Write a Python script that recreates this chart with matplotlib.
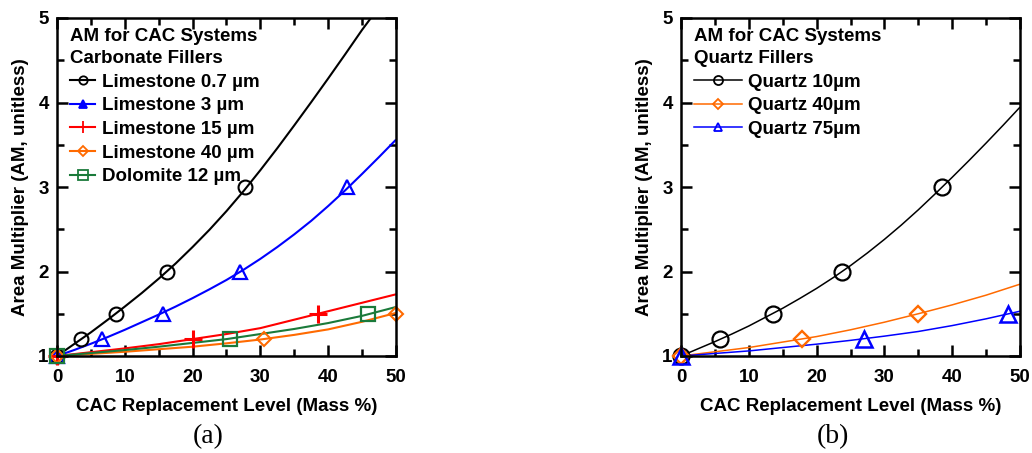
import matplotlib
matplotlib.use("Agg")
import matplotlib.pyplot as plt
from matplotlib.ticker import MultipleLocator
from matplotlib.lines import Line2D

plt.rcParams['font.family'] = ['Liberation Sans', 'DejaVu Sans']
plt.rcParams['font.weight'] = 'bold'

# ---------- data: panel (a) carbonate fillers ----------
step5_x = [0, 5, 10, 15, 20, 25, 30, 35, 40, 45, 50]
step25_x = [0, 2.5, 5, 7.5, 10, 12.5, 15, 17.5, 20, 22.5, 25, 27.5, 30,
            32.5, 35, 37.5, 40, 42.5, 45, 47.5, 50]

ls07_curve_x = [0, 2.5, 5, 7.5, 10, 12.5, 15, 17.5, 20, 22.5, 25, 27.5, 30,
                32.5, 35, 37.5, 40, 42.5, 45, 46.3]
ls07_curve_y = [1.0, 1.14, 1.28, 1.43, 1.585, 1.745, 1.915, 2.095, 2.29, 2.495,
                2.715, 2.95, 3.2, 3.46, 3.73, 4.005, 4.285, 4.57, 4.86, 5.0]
ls07_pts_x = [0, 3.5, 8.7, 16.2, 27.8]
ls07_pts_y = [1.0, 1.2, 1.5, 2.0, 3.0]

ls3_curve_y = [1.0, 1.07, 1.145, 1.225, 1.31, 1.4, 1.49, 1.585, 1.685, 1.79,
               1.9, 2.02, 2.15, 2.29, 2.44, 2.6, 2.775, 2.96, 3.155, 3.355, 3.56]
ls3_pts_x = [0, 6.7, 15.6, 27.0, 42.7]
ls3_pts_y = [1.0, 1.2, 1.5, 2.0, 3.0]

ls15_curve_y = [1.0, 1.045, 1.09, 1.14, 1.2, 1.26, 1.33, 1.43, 1.53, 1.63, 1.73]
ls15_pts_x = [0, 20.0, 38.5]
ls15_pts_y = [1.0, 1.2, 1.5]

ls40_curve_y = [1.0, 1.025, 1.05, 1.08, 1.11, 1.15, 1.195, 1.25, 1.315, 1.405, 1.51]
ls40_pts_x = [0, 30.5, 50.0]
ls40_pts_y = [1.0, 1.2, 1.5]

dol12_curve_y = [1.0, 1.035, 1.07, 1.11, 1.155, 1.2, 1.26, 1.32, 1.39, 1.475, 1.58]
dol12_pts_x = [0, 25.5, 45.8]
dol12_pts_y = [1.0, 1.2, 1.5]

# ---------- data: panel (b) quartz fillers ----------
q10_curve_y = [1.0, 1.085, 1.17, 1.26, 1.355, 1.46, 1.565, 1.68, 1.8, 1.93,
               2.07, 2.22, 2.38, 2.55, 2.73, 2.92, 3.115, 3.315, 3.52, 3.73, 3.945]
q10_pts_x = [0, 5.8, 13.5, 23.8, 38.5]
q10_pts_y = [1.0, 1.2, 1.5, 2.0, 3.0]

q40_curve_y = [1.0, 1.05, 1.1, 1.165, 1.23, 1.31, 1.4, 1.5, 1.605, 1.72, 1.85]
q40_pts_x = [0, 17.8, 35.0]
q40_pts_y = [1.0, 1.2, 1.5]

q75_curve_y = [1.0, 1.03, 1.06, 1.1, 1.14, 1.185, 1.235, 1.29, 1.36, 1.44, 1.53]
q75_pts_x = [0, 27.0, 48.3]
q75_pts_y = [1.0, 1.2, 1.5]

BLACK = '#000000'
BLUE = '#0000ff'
RED = '#ff0000'
ORANGE = '#ff6a00'
GREEN = '#1a7a3a'

FS = 13.5

fig = plt.figure(figsize=(10.32, 4.53), dpi=100)
axA = fig.add_axes([57/1032, 97/453, 339/1032, 338/453])
axB = fig.add_axes([681/1032, 97/453, 339/1032, 338/453])


def series(ax, cx, cy, px, py, color, marker, label, ms, lw, mew, lms, lfill=False):
    ax.plot(cx, cy, color=color, lw=lw, solid_capstyle='butt', zorder=2)
    ax.plot(px, py, ls='none', marker=marker, ms=ms, mfc='none', mec=color,
            mew=mew, clip_on=False, zorder=3)
    return Line2D([], [], color=color, lw=lw, marker=marker, ms=lms,
                  mfc=color if lfill else 'none', mec=color, mew=1.3, label=label)


hA = [
    series(axA, ls07_curve_x, ls07_curve_y, ls07_pts_x, ls07_pts_y, BLACK, 'o', 'Limestone 0.7 µm', 10, 1.5, 1.5, 6),
    series(axA, step25_x, ls3_curve_y, ls3_pts_x, ls3_pts_y, BLUE, '^', 'Limestone 3 µm', 10, 1.5, 1.6, 6, True),
    series(axA, step5_x, ls15_curve_y, ls15_pts_x, ls15_pts_y, RED, '+', 'Limestone 15 µm', 13, 1.5, 2.2, 9),
    series(axA, step5_x, ls40_curve_y, ls40_pts_x, ls40_pts_y, ORANGE, 'D', 'Limestone 40 µm', 7.5, 1.5, 1.5, 5),
    series(axA, step5_x, dol12_curve_y, dol12_pts_x, dol12_pts_y, GREEN, 's', 'Dolomite 12 µm', 9.5, 1.5, 1.6, 6.5),
]

hB = [
    series(axB, step25_x, q10_curve_y, q10_pts_x, q10_pts_y, BLACK, 'o', 'Quartz 10µm', 11.5, 1.1, 1.6, 6.5),
    series(axB, step5_x, q40_curve_y, q40_pts_x, q40_pts_y, ORANGE, 'D', 'Quartz 40µm', 8.5, 1.1, 1.7, 5),
    series(axB, step5_x, q75_curve_y, q75_pts_x, q75_pts_y, BLUE, '^', 'Quartz 75µm', 11.5, 1.1, 1.8, 5.5),
]

titles = ["AM for CAC Systems\nCarbonate Fillers", "AM for CAC Systems\nQuartz Fillers"]
panels = ['(a)', '(b)']
hlens = [1.35, 2.55]
for ax, h, t, p, hl in zip([axA, axB], [hA, hB], titles, panels, hlens):
    ax.set_xlim(0, 50)
    ax.set_ylim(1, 5)
    ax.xaxis.set_major_locator(MultipleLocator(10))
    ax.xaxis.set_minor_locator(MultipleLocator(5))
    ax.yaxis.set_major_locator(MultipleLocator(1))
    ax.yaxis.set_minor_locator(MultipleLocator(0.5))
    ax.tick_params(which='both', direction='in', top=True, right=True, width=1.8,
                   labelsize=FS)
    ax.tick_params(axis='x', which='both', pad=9)
    ax.tick_params(axis='y', which='both', pad=6)
    ax.tick_params(which='major', length=8)
    ax.tick_params(which='minor', length=5)
    for lab in ax.get_xticklabels() + ax.get_yticklabels():
        lab.set_fontweight('bold')
    for s in ax.spines.values():
        s.set_linewidth(1.8)
        s.set_zorder(4)
    ax.set_xlabel('CAC Replacement Level (Mass %)', fontsize=FS, fontweight='bold', labelpad=9)
    ax.set_ylabel('Area Multiplier (AM, unitless)', fontsize=FS, fontweight='bold', labelpad=7)
    leg = ax.legend(handles=h, title=t, loc='upper left', frameon=False,
                    fontsize=FS, title_fontsize=FS, handlelength=hl,
                    handletextpad=0.35, labelspacing=0.35, borderaxespad=0.25,
                    borderpad=0.3, alignment='left',
                    bbox_to_anchor=(0.008, 1.0))
    leg.get_title().set_fontweight('bold')
    leg.get_title().set_linespacing(1.35)
    for tx in leg.get_texts():
        tx.set_fontweight('bold')
    ax.text(0.447, -0.2396, p, transform=ax.transAxes, ha='center', va='center',
            fontsize=20, fontfamily='Liberation Serif', fontweight='normal')

fig.savefig('out.png', dpi=100)
